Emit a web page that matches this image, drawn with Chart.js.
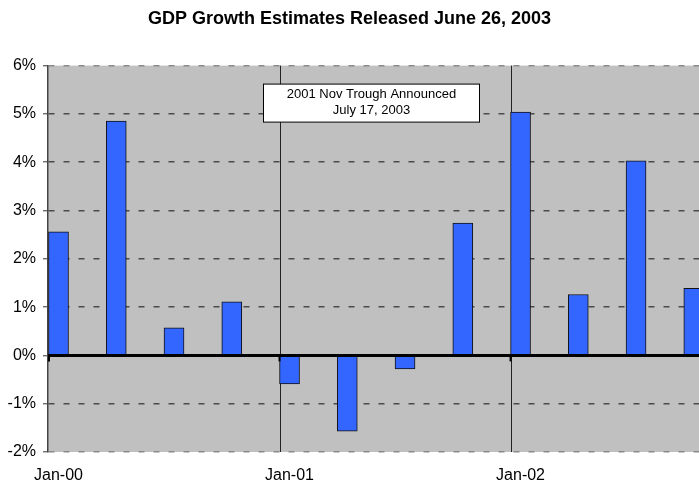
<!DOCTYPE html>
<html>
<head>
<meta charset="utf-8">
<script src="https://cdn.jsdelivr.net/npm/chart.js@4/dist/chart.umd.min.js"></script>
<style>
  html, body { margin: 0; padding: 0; background: #ffffff; }
  #wrap { width: 699px; height: 487px; position: relative; }
</style>
</head>
<body>
<div id="wrap"><canvas id="c"></canvas></div>
<script>
// ---- data ----
const quarters = ["2000Q1","2000Q2","2000Q3","2000Q4","2001Q1","2001Q2","2001Q3","2001Q4","2002Q1","2002Q2","2002Q3","2002Q4"];
const gdpGrowth = [2.56, 4.85, 0.57, 1.11, -0.59, -1.57, -0.28, 2.74, 5.04, 1.26, 4.03, 1.39];
const tickLabels = ["Jan-00", "Jan-01", "Jan-02"];
const tickQuarterIndex = [0, 4, 8];
const yTicks = [-2, -1, 0, 1, 2, 3, 4, 5, 6];
const titleText = "GDP Growth Estimates Released June 26, 2003";
const noteLines = ["2001 Nov Trough Announced", "July 17, 2003"];

const FONT = "'Liberation Sans', Arial, sans-serif";
const BAR_W = 20;

const points = gdpGrowth.map((v, i) => ({ x: i, y: v }));

const decorPlugin = {
  id: 'decor',
  beforeDraw(chart) {
    const { ctx, chartArea: a } = chart;
    ctx.save();
    ctx.fillStyle = '#ffffff';
    ctx.fillRect(0, 0, chart.width, chart.height);
    ctx.fillStyle = '#C0C0C0';
    ctx.fillRect(a.left, a.top, a.right - a.left, a.bottom - a.top);
    ctx.restore();
  },
  beforeDatasetsDraw(chart) {
    const { ctx, chartArea: a, scales: { x } } = chart;
    ctx.save();
    ctx.strokeStyle = '#222';
    ctx.lineWidth = 1;
    tickQuarterIndex.forEach(q => {
      if (q === 0) return;
      const px = Math.round(x.getPixelForValue(q) - BAR_W / 2) + 0.5;
      ctx.beginPath();
      ctx.moveTo(px, a.top);
      ctx.lineTo(px, a.bottom);
      ctx.stroke();
    });
    ctx.restore();
  },
  afterDatasetsDraw(chart) {
    const { ctx, chartArea: a, scales: { x, y } } = chart;
    const y0 = y.getPixelForValue(0);
    ctx.save();
    // zero line
    ctx.strokeStyle = '#000';
    ctx.lineWidth = 3;
    ctx.beginPath();
    ctx.moveTo(a.left, y0);
    ctx.lineTo(a.right, y0);
    ctx.stroke();
    // small tick marks on zero line
    ctx.lineWidth = 2;
    tickQuarterIndex.forEach(q => {
      const px = Math.max(a.left + 1, x.getPixelForValue(q) - BAR_W / 2);
      ctx.beginPath();
      ctx.moveTo(px, y0);
      ctx.lineTo(px, y0 + 6);
      ctx.stroke();
    });
    // annotation box
    const bx = a.left + 215.5, by = a.top + 18.5, bw = 216, bh = 38;
    ctx.fillStyle = '#ffffff';
    ctx.fillRect(bx, by, bw, bh);
    ctx.strokeStyle = '#000';
    ctx.lineWidth = 1;
    ctx.strokeRect(bx, by, bw, bh);
    ctx.fillStyle = '#000';
    ctx.font = "13px " + FONT;
    ctx.textAlign = 'center';
    ctx.textBaseline = 'middle';
    ctx.fillText(noteLines[0], bx + bw / 2, by + 10.5);
    ctx.fillText(noteLines[1], bx + bw / 2, by + 26);
    ctx.restore();
  }
};

new Chart(document.getElementById('c'), {
  type: 'bar',
  data: {
    labels: quarters,
    datasets: [{
      label: 'GDP growth',
      data: points,
      backgroundColor: '#3366FF',
      borderColor: '#111',
      borderWidth: 1,
      borderSkipped: false,
      barThickness: BAR_W
    }]
  },
  options: {
    responsive: true,
    maintainAspectRatio: false,
    animation: false,
    layout: { padding: { left: 0, right: 0, top: 0, bottom: 0 } },
    plugins: {
      legend: { display: false },
      tooltip: { enabled: false },
      title: {
        display: true,
        text: titleText,
        color: '#000',
        font: { family: FONT, size: 18, weight: 'bold' },
        padding: { top: 8, bottom: 36 }
      }
    },
    scales: {
      x: {
        type: 'linear',
        offset: false,
        min: -0.182,
        max: 11.09,
        grid: { display: false, drawTicks: false },
        border: { display: false },
        afterBuildTicks(scale) {
          scale.ticks = tickQuarterIndex.map(v => ({ value: v }));
        },
        afterFit(scale) { scale.height = 35; },
        ticks: {
          autoSkip: false,
          maxRotation: 0,
          padding: 14,
          color: '#000',
          font: { family: FONT, size: 16 },
          callback: (v) => {
            const k = tickQuarterIndex.indexOf(v);
            return k >= 0 ? tickLabels[k] : '';
          }
        }
      },
      y: {
        min: -2,
        max: 6,
        afterBuildTicks(scale) {
          scale.ticks = yTicks.map(v => ({ value: v }));
        },
        afterFit(scale) { scale.width = 48; },
        grid: {
          color: (c) => {
            const v = c.tick ? c.tick.value : null;
            if (v === 0) return 'rgba(0,0,0,0)';
            if (v === 6 || v === -2) return '#8a8a8a';
            return '#4a4a4a';
          },
          lineWidth: 1.6,
          tickLength: 5,
          tickColor: '#333',
          tickWidth: 1
        },
        border: { display: true, color: '#444', width: 1.5, dash: [6, 9] },
        ticks: {
          padding: 7,
          color: '#000',
          font: { family: FONT, size: 16 },
          callback: (v) => v + '%'
        }
      }
    }
  },
  plugins: [decorPlugin]
});
</script>
</body>
</html>
